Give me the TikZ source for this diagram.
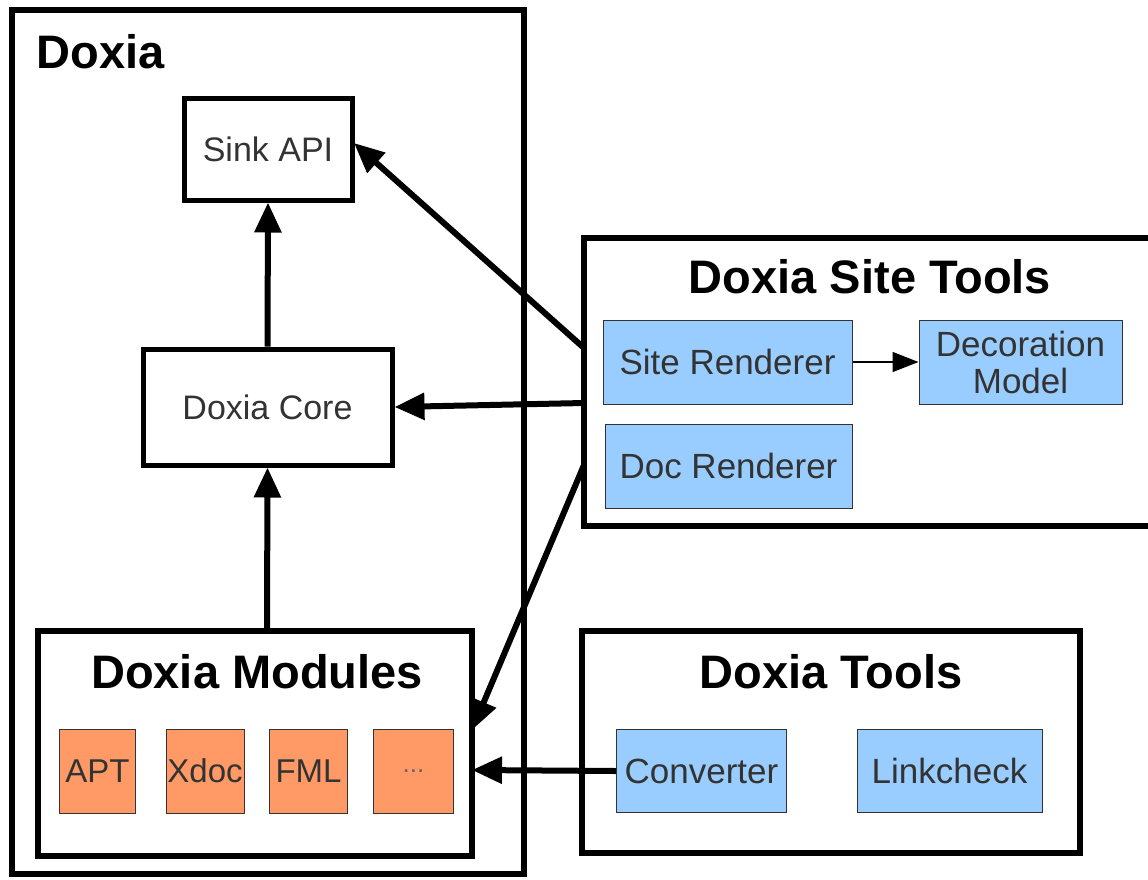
\documentclass[tikz,border=0pt]{standalone}
\usepackage{fontspec}
\setmainfont{Liberation Sans}
\usetikzlibrary{arrows.meta}
\definecolor{bluebox}{HTML}{99CCFF}
\definecolor{orangebox}{HTML}{FF9966}
\definecolor{txtgray}{HTML}{333333}
\begin{document}
\begin{tikzpicture}[x=1pt,y=-1pt,
  outer/.style={draw=black,line width=6pt,fill=white},
  inner/.style={draw=black,line width=5pt,fill=white,font=\fontsize{34}{38}\selectfont,text=txtgray},
  bluebox/.style={draw=black!80,line width=1pt,fill=bluebox,font=\fontsize{35}{38}\selectfont,text=txtgray},
  orangebox/.style={draw=black!80,line width=1pt,fill=orangebox,font=\fontsize{33}{38}\selectfont,text=txtgray},
  title/.style={font=\fontsize{47}{50}\selectfont\bfseries},
  bigarrow/.style={line width=6pt,-{Triangle[length=30pt,width=26pt]}},
  smallarrow/.style={line width=1.5pt,-{Triangle[length=26pt,width=20pt]}}]
\useasboundingbox (0,0) rectangle (1148,879);
\begin{scope}
\clip (0,0) rectangle (1148,879);
% Doxia outer
\draw[outer] (12,10) rectangle (524,874);
\node[title,anchor=west] (tdoxia) at (33,52) {Doxia};
\node[inner,minimum width=168pt,minimum height=102pt] (sink) at (268,149) {Sink API};
\node[inner,minimum width=249pt,minimum height=116pt] (core) at (267.5,407) {Doxia Core};
\draw[outer] (38,631) rectangle (472,856);
\coordinate (modtop) at (267,631);
\coordinate (modright) at (472,770);
\coordinate (modrighttop) at (472,730);
\node[title] (tmod) at (257,672) {Doxia Modules};
\node[orangebox,minimum width=76pt,minimum height=84pt,inner sep=0pt] (apt) at (97.5,771) {APT};
\node[orangebox,minimum width=78pt,minimum height=84pt,inner sep=0pt] (xdoc) at (205,771) {Xdoc};
\node[orangebox,minimum width=78pt,minimum height=84pt,inner sep=0pt] (fml) at (308.5,771) {FML};
\node[orangebox,minimum width=80pt,minimum height=84pt,inner sep=0pt,font=\fontsize{26}{30}\selectfont,text=black!60] (dots) at (413.5,771) {...};
% Site tools
\draw[outer] (584,238) rectangle (1160,526);
\coordinate (st1) at (584,348);
\coordinate (st2) at (584,403);
\coordinate (st3) at (584,465);
\node[title] (tsite) at (870,277) {Doxia Site Tools};
\node[bluebox,minimum width=249pt,minimum height=84pt] (siter) at (727.5,362) {Site Renderer};
\node[bluebox,minimum width=203pt,minimum height=84pt,align=center,font=\fontsize{35}{37}\selectfont,inner sep=0pt] (deco) at (1020.5,362) {Decoration\\Model};
\node[bluebox,minimum width=247pt,minimum height=84pt] (docr) at (728.5,466) {Doc Renderer};
% Tools
\draw[outer] (582,631) rectangle (1080,853);
\node[title] (ttools) at (831,672) {Doxia Tools};
\node[bluebox,minimum width=170pt,minimum height=83pt] (conv) at (701.5,771) {Converter};
\node[bluebox,minimum width=185pt,minimum height=83pt] (link) at (949.5,771) {Linkcheck};
\end{scope}
% arrows
\draw[bigarrow] (core.north) -- (sink.south);
\draw[bigarrow] (modtop) -- (core.south);
\draw[bigarrow] (st1) -- (354,143);
\draw[bigarrow] (st2) -- (core.east);
\draw[bigarrow] (st3) -- (modrighttop);
\draw[bigarrow] (conv.west) -- (modright);
\draw[smallarrow] (siter.east) -- (deco.west);
\end{tikzpicture}
\end{document}
